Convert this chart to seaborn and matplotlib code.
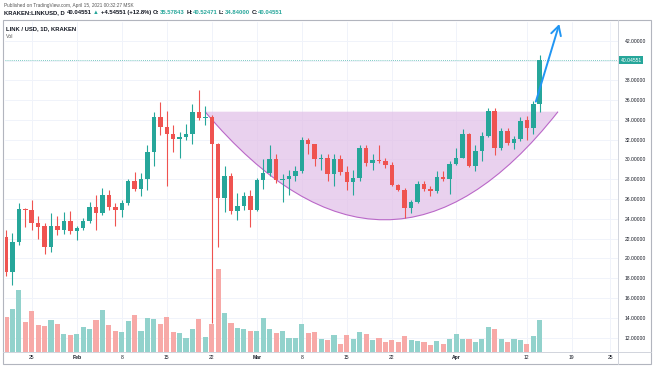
import matplotlib
matplotlib.use("Agg")
import matplotlib.pyplot as plt
from matplotlib.path import Path
from matplotlib.patches import PathPatch, Rectangle
from matplotlib.lines import Line2D
import numpy as np
import pandas as pd
import seaborn as sns

# daily candles, Jan 21 .. Apr 14 2021 (index 0 = Jan 21)
opens = [22.2, 18.6, 21.7, 25.0, 24.9, 23.6, 23.3, 21.2, 23.3, 22.9,
         23.8, 22.8, 23.1, 23.8, 25.2, 24.6, 26.4, 25.2, 24.9, 25.6,
         27.8, 27.0, 28.0, 30.8, 34.3, 33.3, 32.6, 32.1, 32.3, 32.6,
         34.8, 34.2, 34.3, 31.6, 26.1, 28.3, 24.8, 25.3, 26.3, 24.9,
         27.9, 28.6, 30.0, 27.9, 28.0, 28.3, 28.8, 32.0, 31.6, 30.0,
         30.2, 28.5, 30.0, 28.7, 27.7, 28.1, 31.2, 29.6, 29.9, 29.8,
         29.4, 27.4, 26.9, 25.1, 25.7, 27.5, 27.0, 26.8, 28.2, 28.0,
         29.5, 30.2, 32.6, 29.3, 30.9, 32.4, 34.9, 31.2, 32.9, 31.7,
         32.1, 34.0, 33.2, 35.57843]
highs = [22.9, 22.6, 25.6, 25.1, 25.9, 24.3, 23.6, 24.6, 24.3, 24.7,
         24.8, 23.3, 24.1, 25.7, 26.4, 27.1, 26.9, 25.6, 25.9, 28.0,
         28.7, 28.6, 31.5, 34.8, 35.8, 34.9, 33.5, 32.8, 33.6, 35.6,
         37.0, 35.4, 34.5, 31.7, 29.3, 28.6, 26.6, 26.7, 26.9, 28.1,
         30.0, 31.5, 30.6, 28.5, 28.9, 29.3, 32.3, 32.2, 31.6, 30.6,
         30.6, 30.6, 30.5, 29.3, 28.9, 31.5, 31.5, 30.6, 31.5, 30.2,
         29.7, 27.5, 27.1, 25.9, 27.8, 27.8, 27.3, 28.8, 28.8, 29.8,
         31.2, 33.1, 32.7, 31.5, 32.8, 35.2, 35.2, 33.2, 33.2, 32.4,
         34.3, 34.4, 35.9, 40.52471]
lows = [18.2, 17.3, 21.4, 23.2, 22.9, 22.0, 20.5, 20.7, 22.4, 22.5,
        22.5, 21.9, 22.9, 23.6, 22.9, 24.4, 24.9, 23.3, 24.2, 25.4,
        26.8, 26.3, 26.9, 29.3, 32.5, 27.3, 30.8, 30.1, 32.0, 31.6,
        34.0, 33.5, 13.5, 21.2, 24.7, 24.5, 23.9, 24.9, 23.2, 24.8,
        27.0, 28.3, 27.6, 25.7, 26.4, 27.8, 28.6, 30.6, 29.3, 28.9,
        27.8, 27.3, 28.4, 26.9, 26.4, 27.8, 29.3, 28.9, 29.6, 29.1,
        27.3, 26.8, 24.1, 24.6, 25.6, 26.8, 26.3, 26.6, 27.8, 26.5,
        29.4, 30.1, 29.2, 28.8, 29.8, 32.3, 30.5, 31.0, 31.5, 31.1,
        31.9, 32.0, 32.6, 34.84]
closes = [18.6, 21.7, 25.0, 24.9, 23.6, 23.2, 21.2, 23.3, 22.9, 23.8,
          22.8, 23.1, 23.8, 25.2, 24.6, 26.4, 25.2, 24.9, 25.6, 27.8,
          27.0, 28.0, 30.8, 34.3, 33.3, 32.6, 32.1, 32.3, 32.6, 34.8,
          34.2, 34.3, 31.6, 26.1, 28.3, 24.8, 25.3, 26.3, 24.9, 27.9,
          28.6, 30.0, 27.9, 28.0, 28.3, 28.8, 32.0, 31.6, 30.0, 30.2,
          28.5, 30.0, 28.7, 27.7, 28.1, 31.2, 29.6, 29.9, 29.8, 29.4,
          27.4, 26.9, 25.1, 25.7, 27.5, 27.0, 26.8, 28.2, 28.0, 29.5,
          30.2, 32.6, 29.3, 30.9, 32.4, 34.9, 31.2, 32.9, 31.7, 32.1,
          33.9, 33.2, 35.57843, 40.04551]
# volume, thousands of LINK
volumes = [350, 434, 617, 300, 410, 267, 257, 317, 277, 184,
           174, 180, 250, 234, 317, 424, 274, 207, 200, 307,
           367, 214, 340, 334, 284, 350, 200, 190, 144, 227,
           334, 150, 284, 827, 394, 294, 240, 234, 214, 214,
           344, 230, 194, 214, 140, 140, 277, 194, 200, 127,
           117, 167, 84, 167, 127, 200, 177, 124, 140, 100,
           124, 100, 160, 117, 107, 100, 74, 107, 84, 134,
           184, 127, 127, 100, 127, 250, 234, 127, 100, 127,
           120, 77, 157, 317]

tick_pos = [4, 11, 18, 25, 32, 39, 46, 53, 60, 70, 81, 88, 94]
tick_labels = ["25", "Feb", "8", "15", "22", "Mar", "8", "15", "22", "Apr", "12", "19", "25"]
month_labels = ["Feb", "Mar", "Apr"]
price_ticks = list(range(12, 43, 2))

# drawings on the chart (day index, price)
cup_start, cup_ctrl, cup_end = (30.95, 34.83), (59.4, 12.98), (85.85, 34.83)
arrow_from, arrow_to = (82.4, 35.84), (86.05, 43.69)
last_price = 40.04551

UP, DOWN = "#26a69a", "#ef5350"
UP_VOL, DOWN_VOL = "#92d2cc", "#f7a9a7"
GRID = "#f0f3fa"
TEXT = "#131722"

sns.set_theme(style="white")
plt.rcParams["font.family"] = ["Liberation Sans", "DejaVu Sans"]

df = pd.DataFrame({"open": opens, "high": highs, "low": lows,
                   "close": closes, "volume": volumes})
df["day"] = np.arange(len(df))
df["dir"] = np.where(df["close"] >= df["open"], "up", "down")
colors = df["dir"].map({"up": UP, "down": DOWN})

W, H = 654, 366
fig = plt.figure(figsize=(W / 100, H / 100), dpi=100)


def rect(l, t, r, b):
    return [l / W, 1 - b / H, (r - l) / W, (b - t) / H]


ax = fig.add_axes(rect(5, 22, 618, 352))

# grid
for p in price_ticks:
    ax.axhline(p, color=GRID, lw=0.7, zorder=0)
for x in tick_pos:
    ax.axvline(x, color=GRID, lw=0.7, zorder=0)

# cup drawing
cup = Path([cup_start, cup_ctrl, cup_end, cup_start],
           [Path.MOVETO, Path.CURVE3, Path.CURVE3, Path.CLOSEPOLY])
ax.add_patch(PathPatch(cup, fc="#e1bee7", ec="none", alpha=0.7, zorder=1))
arc = Path([cup_start, cup_ctrl, cup_end], [Path.MOVETO, Path.CURVE3, Path.CURVE3])
ax.add_patch(PathPatch(arc, fc="none", ec="#ba68c8", lw=0.8, zorder=1))

# candles
ax.vlines(df["day"], df["low"], df["high"], colors=colors, lw=0.8, zorder=2)
body = np.maximum((df["close"] - df["open"]).abs(), 0.08)
ax.bar(df["day"], body, bottom=np.minimum(df["open"], df["close"]),
       width=0.7, color=colors, lw=0, zorder=3)

# last price line + label
ax.axhline(last_price, color=UP, lw=0.6, ls=(0, (1, 1.5)), alpha=0.8, zorder=1)
ax.text(1.004, last_price, f"{last_price:.5f}", transform=ax.get_yaxis_transform(),
        ha="left", va="center", color="white", fontsize=3.6, clip_on=False,
        bbox=dict(boxstyle="square,pad=0.3", fc=UP, ec="none"))

# arrow
ax.annotate("", xy=arrow_to, xytext=arrow_from, annotation_clip=False,
            arrowprops=dict(arrowstyle="->,head_length=0.55,head_width=0.3",
                            color="#2196f3", lw=1.4, shrinkA=0, shrinkB=0))

# volume
axv = ax.twinx()
sns.barplot(data=df, x="day", y="volume", hue="dir", dodge=False, native_scale=True,
            palette={"up": UP_VOL, "down": DOWN_VOL}, width=0.8, errorbar=None,
            saturation=1, legend=False, linewidth=0, ax=axv)
axv.set_ylim(0, 3300)
axv.set_yticks([])
axv.set_ylabel("")
axv.set_xlabel("")
for s in axv.spines.values():
    s.set_visible(False)

ax.set_xlim(-0.16, 95.18)
ax.set_ylim(10.55, 43.89)
ax.yaxis.tick_right()
yt = [p for p in price_ticks if p != 40]
ax.set_yticks(yt, [f"{p:.5f}" for p in yt])
ax.set_xticks(tick_pos, tick_labels)
ax.tick_params(axis="y", length=0, pad=5, labelsize=3.6, labelcolor=TEXT)
ax.tick_params(axis="x", length=0, pad=2.5, labelsize=3.6, labelcolor=TEXT)
for lbl in ax.get_xticklabels():
    if lbl.get_text() in month_labels:
        lbl.set_fontweight("bold")
for s in ax.spines.values():
    s.set_visible(False)

# frame and separators
fig.add_artist(Rectangle((3 / W, 1 - 364 / H), 648 / W, 344 / H, transform=fig.transFigure,
                         fill=False, ec="#b2b5be", lw=0.8))
fig.add_artist(Line2D([3 / W, 651 / W], [1 - 352 / H] * 2, color="#d1d4dc", lw=0.7))
fig.add_artist(Line2D([618 / W] * 2, [1 - 20 / H, 1 - 364 / H], color="#d1d4dc", lw=0.7))

# header
fig.text(4 / W, 1 - 5 / H, "Published on TradingView.com, April 15, 2021 00:32:27 MSK",
         fontsize=3.4, color="#555555", va="center")
segs = [("KRAKEN:LINKUSD, D", TEXT), ("40.04551", TEXT), ("▲", UP),
        ("+4.54551 (+12.8%)", TEXT), ("O:", TEXT), ("35.57843", UP), ("H:", TEXT),
        ("40.52471", UP), ("L:", TEXT), ("34.84000", UP), ("C:", TEXT), ("40.04551", UP)]
t = fig.text(4 / W, 1 - 15 / H, segs[0][0], fontsize=4.2, color=segs[0][1],
             fontweight="bold", va="bottom")
for i, (s, c) in enumerate(segs[1:]):
    gap = 0 if s[0] in "0123456789" and segs[i][0].endswith(":") else 1.3
    t = ax.annotate(s, xy=(1, 0), xycoords=t, xytext=(gap, 0), textcoords="offset points",
                    fontsize=4.2, color=c, fontweight="bold", va="bottom", ha="left",
                    annotation_clip=False)
fig.text(6 / W, 1 - 29 / H, "LINK / USD, 1D, KRAKEN", fontsize=4.2, color=TEXT,
         fontweight="bold", va="center")
fig.text(6 / W, 1 - 37 / H, "Vol", fontsize=3.8, color="#555555", va="center")

fig.savefig("out.png", dpi=100)
